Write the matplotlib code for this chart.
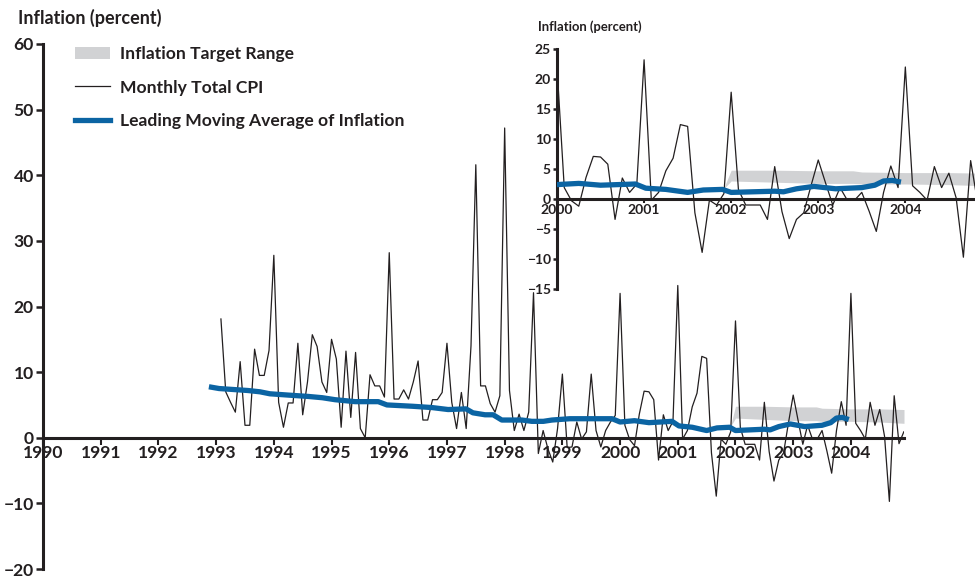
import matplotlib
matplotlib.use('Agg')
import matplotlib.pyplot as plt
from matplotlib.lines import Line2D
from matplotlib.patches import Patch
import numpy as np

plt.rcParams['font.family'] = ['Lato', 'DejaVu Sans']
plt.rcParams['font.weight'] = 'bold'

# monthly total CPI inflation, Feb 1993 - Dec 1999
cpi_early = [18.1, 7.0, 5.4, 3.9, 11.6, 1.9, 1.9, 13.5, 9.5, 9.5, 13.3, 27.8,
             5.4, 1.6, 5.3, 5.3, 14.4, 3.5, 8.5, 15.7, 13.9, 8.5, 6.9, 15.0,
             12.0, 1.6, 13.2, 3.1, 13.0, 1.4, 0.0, 9.6, 7.9, 7.9, 6.2, 28.2,
             5.9, 5.9, 7.3, 5.9, 8.5, 11.7, 2.7, 2.7, 5.8, 5.8, 6.9, 14.4,
             5.4, 1.4, 6.9, 1.4, 14.0, 41.6, 7.9, 7.9, 5.2, 3.9, 6.4, 47.2,
             7.2, 1.1, 3.6, 1.1, 3.9, 22.1, -2.4, 1.1, -1.7, -3.7, 1.4, 9.7,
             -1.5, -1.4, 2.4, -0.2, 0.9, 9.7, 1.1, -1.4, 1.1, 2.4, 3.4]
# Jan 2000 - Dec 2004
cpi_late = [22.0, 1.9, -0.3, -1.2, 3.6, 7.1, 7.0, 5.8, -3.4, 3.5, 1.1, 2.5,
            23.2, -0.2, 1.1, 4.7, 6.8, 12.4, 12.1, -2.3, -8.9, -0.2, -1.0, 0.9,
            17.8, 1.6, -1.0, -1.0, -1.0, -3.4, 5.4, -2.1, -6.6, -3.4, -2.3, 2.2,
            6.5, 2.7, -1.0, 1.9, -0.2, -0.2, 1.1, -2.0, -5.4, 1.1, 5.5, 1.9,
            22.0, 2.2, 1.1, -0.2, 5.4, 1.9, 4.3, 0.2, -9.7, 6.4, -0.9, 0.9]
cpi = cpi_early + cpi_late
cpi_dates = 1993 + (np.arange(len(cpi)) + 1) / 12

# leading moving average
ma_years = [1992.92, 1993.05, 1993.55, 1993.76, 1993.93, 1994.25, 1994.59, 1994.84,
            1995.06, 1995.41, 1995.81, 1995.96, 1996.40, 1996.74, 1997.02, 1997.33,
            1997.45, 1997.66, 1997.80, 1997.95, 1998.30, 1998.47, 1998.67, 1998.82,
            1999.13, 1999.86, 2000.0, 2000.25, 2000.5, 2000.9, 2001.02, 2001.25,
            2001.5, 2001.68, 2001.9, 2002.0, 2002.25, 2002.5, 2002.6, 2002.75,
            2002.95, 2003.2, 2003.5, 2003.65, 2003.75, 2003.85, 2003.92]
ma_values = [7.7, 7.5, 7.2, 7.0, 6.7, 6.5, 6.3, 6.1,
             5.8, 5.5, 5.5, 5.0, 4.8, 4.6, 4.3, 4.4,
             3.8, 3.5, 3.5, 2.7, 2.7, 2.5, 2.5, 2.7,
             2.9, 2.9, 2.4, 2.6, 2.3, 2.5, 1.8, 1.6,
             1.1, 1.5, 1.6, 1.1, 1.2, 1.3, 1.2, 1.7,
             2.1, 1.7, 1.9, 2.3, 3.0, 3.1, 2.9]

# inflation target range
target_years = [2001.92, 2002.0, 2002.5, 2003.0, 2003.4, 2003.5, 2004.0, 2004.5, 2004.92]
target_low = [1.8, 3.0, 2.8, 2.6, 2.6, 2.5, 2.5, 2.4, 2.2]
target_high = [2.0, 4.8, 4.8, 4.7, 4.7, 4.5, 4.4, 4.4, 4.3]

TEXT = '#231f20'
BLUE = '#0b64a3'
GRAY = '#d1d2d4'


def style_axis(ax, fs, tick_len):
    ax.set_facecolor('none')
    ax.spines['top'].set_visible(False)
    ax.spines['right'].set_visible(False)
    ax.spines['bottom'].set_position(('data', 0))
    for s in ('left', 'bottom'):
        ax.spines[s].set_linewidth(2.2)
        ax.spines[s].set_color(TEXT)
    ax.tick_params(axis='x', direction='out', length=tick_len, width=1.5,
                   pad=0.5, labelsize=fs, colors=TEXT)
    ax.tick_params(axis='y', direction='out', length=tick_len, width=1.8,
                   pad=1.5, labelsize=fs, colors=TEXT)


fig = plt.figure(figsize=(9.75, 5.78), dpi=100)

# main chart
ax = fig.add_axes([43 / 975, 9 / 578, 861 / 975, 525 / 578])
ax.fill_between(target_years, target_low, target_high, color=GRAY, lw=0, zorder=1)
ax.plot(cpi_dates, cpi, color=TEXT, lw=0.9, zorder=2)
ax.plot(ma_years, ma_values, color=BLUE, lw=3.8, zorder=3)
ax.set_xlim(1990, 2004.92)
ax.set_ylim(-20, 60)
ax.set_xticks(range(1990, 2005))
ax.set_yticks(range(-20, 61, 10))
style_axis(ax, 12.6, 5)

fig.text(18 / 975, 1 - 18 / 578, 'Inflation (percent)', fontsize=13,
         va='center', ha='left', color=TEXT)

handles = [Patch(facecolor=GRAY, edgecolor='none'),
           Line2D([], [], color=TEXT, lw=0.9),
           Line2D([], [], color=BLUE, lw=3.8)]
labels = ['Inflation Target Range', 'Monthly Total CPI',
          'Leading Moving Average of Inflation']
leg = ax.legend(handles, labels, loc='upper left',
                bbox_to_anchor=(75 / 975, 1 - 46 / 578),
                bbox_transform=fig.transFigure, frameon=False, fontsize=12.6,
                handlelength=2.0, handletextpad=0.55, labelspacing=1.0,
                borderaxespad=0, borderpad=0)
for t in leg.get_texts():
    t.set_color(TEXT)

# inset: 2000 onwards
axin = fig.add_axes([557 / 975, 1 - 289 / 578, 418 / 975, 240 / 578])
axin.fill_between(target_years, target_low, target_high, color=GRAY, lw=0, zorder=1)
axin.plot(cpi_dates, cpi, color=TEXT, lw=0.9, zorder=2)
axin.plot(ma_years, ma_values, color=BLUE, lw=3.8, zorder=3)
axin.set_xlim(2000, 2004.80)
axin.set_ylim(-15, 25)
axin.set_xticks(range(2000, 2005))
axin.set_yticks(range(-15, 26, 5))
style_axis(axin, 10, 3)

fig.text(538 / 975, 1 - 27 / 578, 'Inflation (percent)', fontsize=9.4,
         va='center', ha='left', color=TEXT)

fig.savefig('out.png', dpi=100)
